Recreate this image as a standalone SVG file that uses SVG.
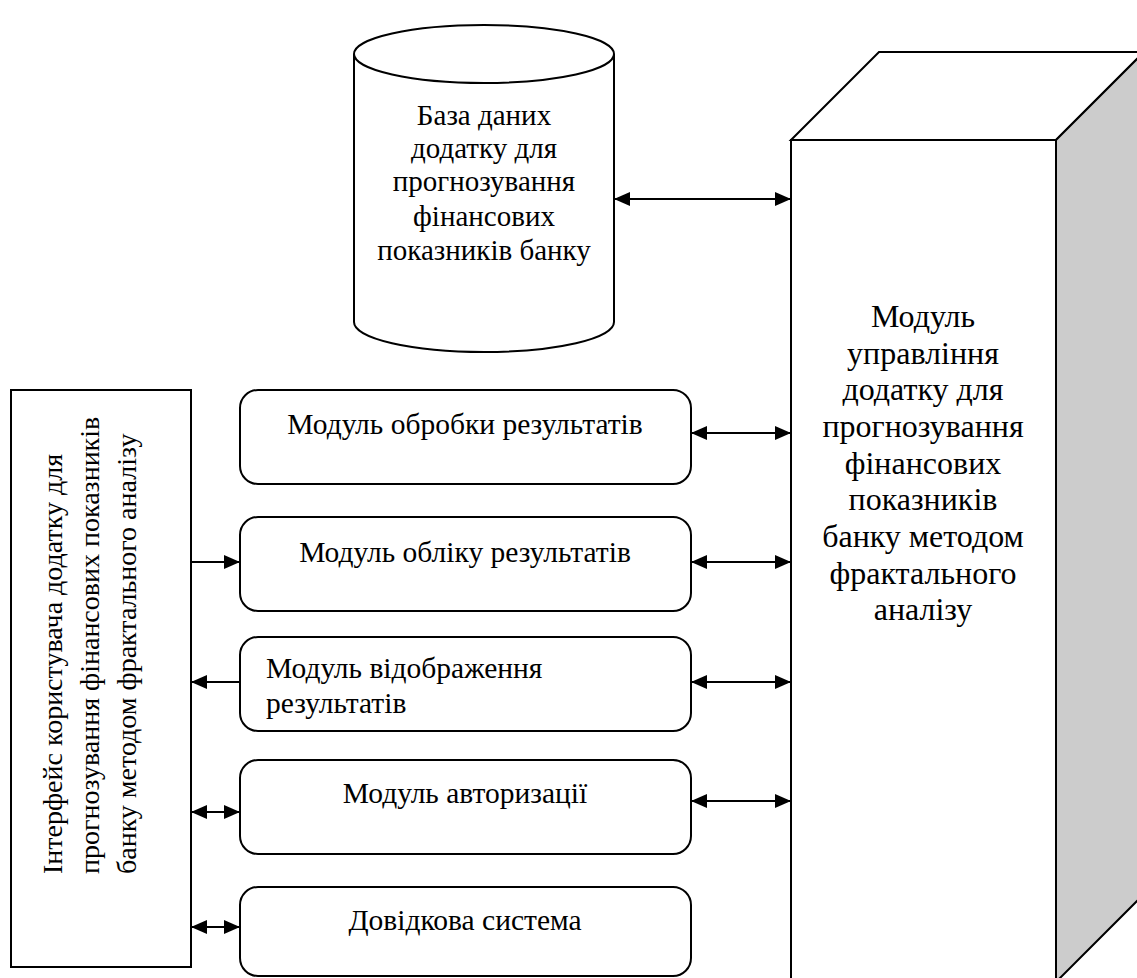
<svg xmlns="http://www.w3.org/2000/svg" width="1137" height="978" viewBox="0 0 1137 978">
<style>
.shape{fill:#fff;stroke:#000;stroke-width:2}
.side{fill:#ccc;stroke:#000;stroke-width:2}
.t{font-family:"Liberation Serif","Times New Roman",serif;font-size:29.5px;fill:#000}
.tc{text-anchor:middle}
.db{font-size:29px}
.big{font-size:32px}
.rot{font-size:28px}
.conn line{stroke:#000;stroke-width:2}
</style>
<defs>
<marker id="ah" markerUnits="userSpaceOnUse" markerWidth="16" markerHeight="14" refX="16" refY="7" orient="auto-start-reverse">
<path d="M0,0 L16,7 L0,14 z" fill="#000"/>
</marker>
</defs>
<rect width="1137" height="978" fill="#fff"/>

<g id="db">
<path class="shape" d="M354,54 L354,322 A130,30 0 0 0 614,322 L614,54"/>
<ellipse class="shape" cx="484" cy="54" rx="130" ry="29"/>
<text class="t tc db" x="484" y="125">База даних</text>
<text class="t tc db" x="484" y="158">додатку для</text>
<text class="t tc db" x="484" y="191">прогнозування</text>
<text class="t tc db" x="484" y="226">фінансових</text>
<text class="t tc db" x="484" y="260">показників банку</text>
</g>

<g id="control">
<polygon class="shape" points="791,140 879,52 1144,52 1056,140"/>
<polygon class="side" points="1056,140 1144,52 1144,894 1056,982"/>
<rect class="shape" x="791" y="140" width="265" height="842"/>
<text class="t tc big" x="923" y="327">Модуль</text>
<text class="t tc big" x="923" y="364">управління</text>
<text class="t tc big" x="923" y="400">додатку для</text>
<text class="t tc big" x="923" y="437">прогнозування</text>
<text class="t tc big" x="923" y="474">фінансових</text>
<text class="t tc big" x="923" y="510">показників</text>
<text class="t tc big" x="923" y="547">банку методом</text>
<text class="t tc big" x="923" y="584">фрактального</text>
<text class="t tc big" x="923" y="620">аналізу</text>
</g>

<g id="ui">
<rect class="shape" x="11" y="390" width="180" height="577"/>
<text class="t rot" transform="translate(62,874) rotate(-90)">Інтерфейс користувача додатку для</text>
<text class="t rot" transform="translate(99,874) rotate(-90)">прогнозування фінансових показників</text>
<text class="t rot" transform="translate(136,874) rotate(-90)">банку методом фрактального аналізу</text>
</g>

<g id="m-processing">
<rect class="shape" x="240" y="390" width="451" height="94" rx="18"/>
<text class="t tc" x="465" y="434">Модуль обробки результатів</text>
</g>
<g id="m-accounting">
<rect class="shape" x="240" y="517" width="451" height="94" rx="18"/>
<text class="t tc" x="465" y="562">Модуль обліку результатів</text>
</g>
<g id="m-display">
<rect class="shape" x="240" y="637" width="451" height="94" rx="18"/>
<text class="t" x="266" y="678">Модуль відображення</text>
<text class="t" x="266" y="713">результатів</text>
</g>
<g id="m-auth">
<rect class="shape" x="240" y="760" width="451" height="94" rx="18"/>
<text class="t tc" x="465" y="803">Модуль авторизації</text>
</g>
<g id="m-help">
<rect class="shape" x="240" y="887" width="451" height="89" rx="18"/>
<text class="t tc" x="465" y="930">Довідкова система</text>
</g>

<g class="conn" id="connectors">
<line x1="614" y1="199" x2="791" y2="199" marker-start="url(#ah)" marker-end="url(#ah)"/>
<line x1="691" y1="433" x2="791" y2="433" marker-start="url(#ah)" marker-end="url(#ah)"/>
<line x1="691" y1="562" x2="791" y2="562" marker-start="url(#ah)" marker-end="url(#ah)"/>
<line x1="691" y1="682" x2="791" y2="682" marker-start="url(#ah)" marker-end="url(#ah)"/>
<line x1="691" y1="801" x2="791" y2="801" marker-start="url(#ah)" marker-end="url(#ah)"/>
<line x1="191" y1="562" x2="240" y2="562" marker-end="url(#ah)"/>
<line x1="240" y1="682" x2="191" y2="682" marker-end="url(#ah)"/>
<line x1="191" y1="812" x2="240" y2="812" marker-start="url(#ah)" marker-end="url(#ah)"/>
<line x1="191" y1="927" x2="240" y2="927" marker-start="url(#ah)" marker-end="url(#ah)"/>
</g>
</svg>
